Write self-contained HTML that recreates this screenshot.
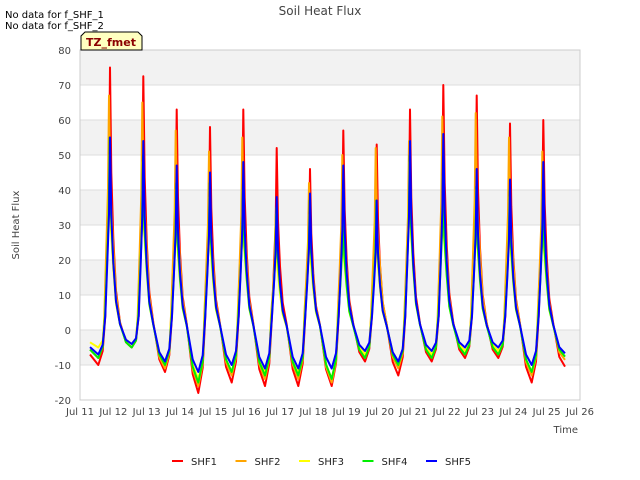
<!DOCTYPE html>
<html><head><meta charset="utf-8"><style>
body{margin:0;background:#fff;}
svg{display:block;font-family:"DejaVu Sans","Liberation Sans",sans-serif;}
</style></head><body>
<svg id="chart" width="640" height="480">
<rect width="640" height="480" fill="#fff"/>
<g id="bands"></g>
<g id="grid"></g>
<rect x="80" y="50" width="500" height="350" fill="none" stroke="#ccc"/>
<g id="series"></g>
<g id="yticks" font-size="10" fill="#444" text-anchor="end"></g>
<g id="xticks" font-size="10" fill="#444" text-anchor="middle"></g>
<text x="320" y="15" font-size="12" fill="#444" text-anchor="middle">Soil Heat Flux</text>
<text x="19" y="225" font-size="10" fill="#444" text-anchor="middle" transform="rotate(-90 19 225)">Soil Heat Flux</text>
<text x="578" y="433" font-size="10" fill="#444" text-anchor="end">Time</text>
<text x="5" y="18" font-size="10" fill="#000">No data for f_SHF_1</text>
<text x="5" y="29" font-size="10" fill="#000">No data for f_SHF_2</text>
<g>
<path d="M81,50 L81,36 L85,32 L138,32 L142,36 L142,50 Z" fill="#ffffc0" stroke="#000" stroke-width="1"/>
<text x="111" y="46" font-size="11" font-weight="bold" fill="#8b0000" text-anchor="middle">TZ_fmet</text>
</g>
<g id="legend" font-size="10" fill="#222"></g>
</svg>
<script>
const dayLabels=["Jul 11","Jul 12","Jul 13","Jul 14","Jul 15","Jul 16","Jul 17","Jul 18","Jul 19","Jul 20","Jul 21","Jul 22","Jul 23","Jul 24","Jul 25","Jul 26"];
const yTicks=[-20,-10,0,10,20,30,40,50,60,70,80];
const seriesNames=["SHF1","SHF2","SHF3","SHF4","SHF5"];
const seriesColors=["#ff0000","#ffa500","#ffff00","#00ee00","#0000ff"];
const peaks1=[75,72.5,63,58,63,52,46,57,53,63,70,67,59,60];
const peaks2=[67,65,57,51,55,33,42,50,52,54,61,62,55,51];
const peaks3=[50,48,40,38,40,30,33,34,34,48,44,40,38,38];
const peaks4=[55,50,42,42,42,35,37,36,37,50,45,41,40,40];
const peaks5=[55,54,47,45,48,38,39,47,37,54,56,46,43,48];
const troughs1=[-10,-5,-12,-18,-15,-16,-16,-16,-9,-13,-9,-8,-8,-15,-11];
const troughs2=[-8,-5,-11,-16,-13,-14,-14,-15,-8,-11,-8,-7,-7,-13,-9];
const troughs3=[-5,-4,-9,-14,-12,-12,-12,-14,-7,-9,-7,-6,-6,-12,-8];
const troughs4=[-8,-5,-10,-15,-12,-13,-13,-14,-8,-10,-8,-7,-7,-12,-8];
const troughs5=[-7,-4,-9,-12,-10,-11,-11,-11,-6,-9,-6,-5,-5,-10,-7];
const peakSeries=[peaks1,peaks2,peaks3,peaks4,peaks5];
const troughSeries=[troughs1,troughs2,troughs3,troughs4,troughs5];
const peakShift=[0,-0.03,-0.02,-0.01,0];

const X0=80,X1=580,Y0=400,Y1=50;
const xs=d=>X0+(d)/15*(X1-X0);
const ys=v=>Y0-(v+20)/100*(Y0-Y1);
const NS="http://www.w3.org/2000/svg";
function mk(tag,attrs,parent){const e=document.createElementNS(NS,tag);for(const k in attrs)e.setAttribute(k,attrs[k]);parent.appendChild(e);return e;}

const bands=document.getElementById('bands');
for(let v=70;v>=-20;v-=20){
 const r=mk('rect',{x:X0,y:ys(v+10),width:X1-X0,height:ys(v)-ys(v+10),fill:'#f2f2f2'},bands);
 
 
}
const grid=document.getElementById('grid');
yTicks.forEach(v=>{
 const l=mk('line',{x1:X0,x2:X1,y1:ys(v),y2:ys(v),stroke:'#ddd'},grid);
 
 
});
const yt=document.getElementById('yticks');
yTicks.forEach(v=>{
 const t=mk('text',{x:X0-9,y:ys(v)+4},yt);t.textContent=v;
 
 
});
const xt=document.getElementById('xticks');
dayLabels.forEach((s,i)=>{
 const t=mk('text',{x:xs(i),y:415},xt);t.textContent=s;
 
 
});
const sg=document.getElementById('series');
seriesNames.forEach((name,si)=>{
 const P=peakSeries[si],T=troughSeries[si],sh=peakShift[si];
 const pts=[[0.3,T[0]*0.7]];
 for(let d=0;d<P.length;d++){
  const p=P[d],tr=T[d],nt=T[d+1];
  pts.push([d+0.55,tr],[d+0.68,tr*0.6],[d+0.76+sh,4],[d+0.82+sh,p*0.35],[d+0.87+sh,p*0.6],[d+0.9+sh,p],[d+0.94+sh,p*0.6],[d+1.0,p*0.35],[d+1.08,p*0.15],[d+1.2,p*0.03],[d+1.38,nt*0.7]);
 }
 pts.push([14.55,T[14]*0.95]);
 const path=mk('path',{d:pts.map((q,i)=>(i?'L':'M')+xs(q[0]).toFixed(1)+','+ys(q[1]).toFixed(1)).join(''),fill:'none',stroke:seriesColors[si],'stroke-width':2,'stroke-linejoin':'round'},sg);
 
 
});
const lg=document.getElementById('legend');
seriesNames.forEach((name,i)=>{
 const x=172+i*63.5;
 const g=mk('g',{},lg);
 
 
 mk('line',{x1:x,x2:x+11,y1:461,y2:461,stroke:seriesColors[i],'stroke-width':2},g);
 const t=mk('text',{x:x+19,y:465},g);t.textContent=name;
});
</script>
</body></html>
